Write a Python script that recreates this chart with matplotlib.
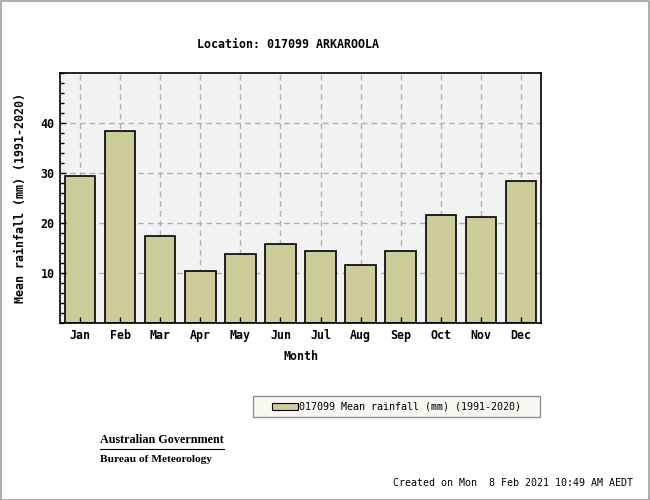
import matplotlib
matplotlib.use('Agg')
import matplotlib.pyplot as plt
from matplotlib.patches import Rectangle
from matplotlib.ticker import MultipleLocator

months = ['Jan', 'Feb', 'Mar', 'Apr', 'May', 'Jun',
          'Jul', 'Aug', 'Sep', 'Oct', 'Nov', 'Dec']
mean_rain = [29.5, 38.5, 17.5, 10.4, 13.8, 15.8,
             14.4, 11.6, 14.4, 21.6, 21.2, 28.4]
y_major = [10, 20, 30, 40]

mono = 'DejaVu Sans Mono'
bar_col = '#cccc99'

fig = plt.figure(figsize=(6.5, 5), dpi=100)
fig.patch.set_facecolor('white')
fig.patches.append(Rectangle((0.001, 0.001), 0.997, 0.997, transform=fig.transFigure,
                             fill=False, edgecolor='#a0a0a0', linewidth=1.2))

ax = fig.add_axes([60 / 650, 177 / 500, 481 / 650, 250 / 500])
ax.set_facecolor('#f2f2f2')

x = list(range(len(months)))
# grid drawn by hand so the ticks can sit on top of the bars
for y in y_major:
    ax.axhline(y, color='#b0b0b0', linestyle=(0, (4, 3)), linewidth=1, zorder=0.5)
for xi in x:
    ax.axvline(xi, color='#b0b0b0', linestyle=(0, (4, 3)), linewidth=1, zorder=0.5)

ax.bar(x, mean_rain, width=0.76, color=bar_col, edgecolor='black', linewidth=1.2,
       zorder=2, label='017099 Mean rainfall (mm) (1991-2020)')

ax.set_xlim(-0.5, 11.5)
ax.set_ylim(0, 50)
ax.set_xticks(x)
ax.set_xticklabels(months)
ax.set_yticks(y_major)
ax.yaxis.set_minor_locator(MultipleLocator(2))
ax.tick_params(axis='both', which='major', direction='in', length=4, width=1,
               labelsize=8.4, pad=4)
ax.tick_params(axis='y', which='minor', direction='in', length=3, width=1)
for lab in ax.get_xticklabels() + ax.get_yticklabels():
    lab.set_fontfamily(mono)
    lab.set_fontweight('bold')
for sp in ax.spines.values():
    sp.set_linewidth(1.2)
    sp.set_zorder(3)
ax.set_axisbelow(False)

ax.set_xlabel('Month', fontfamily=mono, fontweight='bold', fontsize=8.4, labelpad=6)
ax.set_ylabel('Mean rainfall (mm) (1991-2020)', fontfamily=mono, fontweight='bold',
              fontsize=8.4, labelpad=10)
fig.text(288 / 650, 1 - 44 / 500, 'Location: 017099 ARKAROOLA', ha='center', va='center',
         fontfamily=mono, fontweight='bold', fontsize=8.4)

# legend box
fig.patches.append(Rectangle((253 / 650, 1 - 417 / 500), 287 / 650, 21 / 500,
                             transform=fig.transFigure, facecolor='#f8f8f0',
                             edgecolor='#909090', linewidth=1))
leg = fig.legend(loc='center left', bbox_to_anchor=(265 / 650, 1 - 406.5 / 500),
                 prop={'family': mono, 'size': 7.2}, frameon=False,
                 handlelength=2.55, handleheight=0.7, handletextpad=0.15,
                 borderpad=0.2)
for h in leg.legend_handles:
    h.set_linewidth(0.8)

fig.text(100 / 650, 1 - 440 / 500, 'Australian Government', ha='left', va='center',
         fontfamily='Liberation Serif', fontweight='bold', fontsize=8.7)
fig.add_artist(plt.Line2D([100 / 650, 224 / 650], [1 - 449 / 500, 1 - 449 / 500],
                          color='black', linewidth=0.8))
fig.text(100 / 650, 1 - 460 / 500, 'Bureau of Meteorology', ha='left', va='center',
         fontfamily='Liberation Serif', fontweight='bold', fontsize=8.2)
fig.text(633 / 650, 1 - 483 / 500, 'Created on Mon  8 Feb 2021 10:49 AM AEDT',
         ha='right', va='center', fontfamily=mono, fontsize=7.2)

fig.savefig('out.png', dpi=100)
